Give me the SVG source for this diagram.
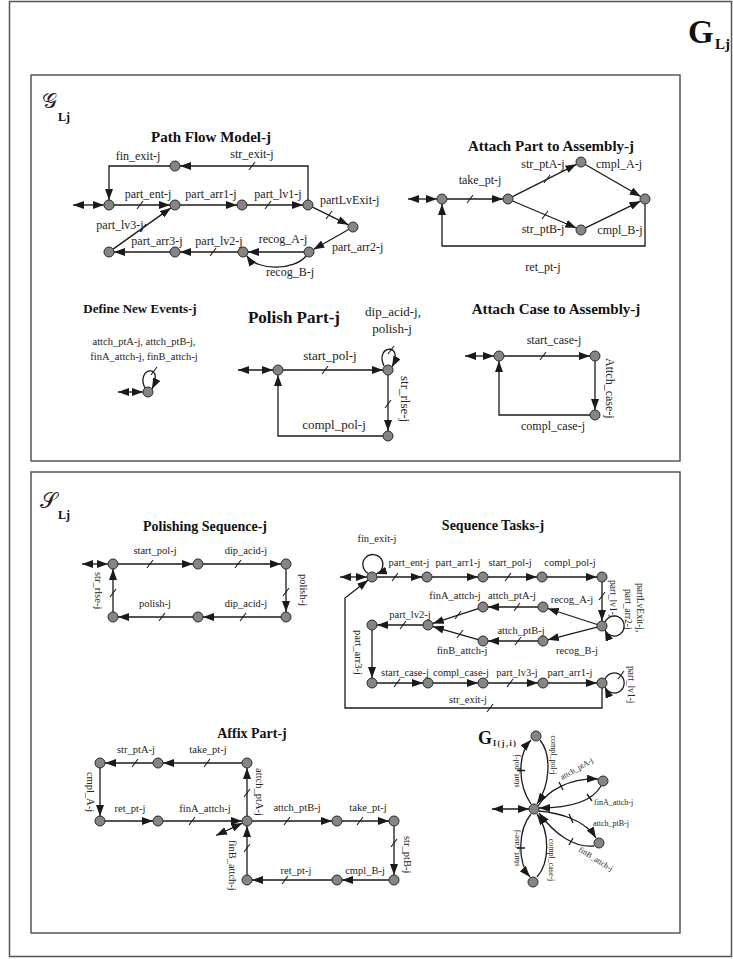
<svg xmlns="http://www.w3.org/2000/svg" width="733" height="959" viewBox="0 0 733 959">
<defs>
<marker id="ah" viewBox="0 0 11 8" refX="11" refY="4" markerWidth="11" markerHeight="8" markerUnits="userSpaceOnUse" orient="auto-start-reverse"><path d="M0,0 L11,4 L0,8 z" fill="#1a1a1a"/></marker>
<path id="tk" d="M-3,4 L3,-4" stroke="#1a1a1a" stroke-width="1.1" fill="none"/>
<circle id="nd" r="5" fill="#858585" stroke="#2a2a2a" stroke-width="1"/>
</defs>
<style>
.e{fill:none;stroke:#1a1a1a;stroke-width:1.3}
.a{marker-end:url(#ah)}
.d{marker-start:url(#ah);marker-end:url(#ah)}
.t{font-family:"Liberation Serif","Times New Roman",serif;font-size:12px;fill:#222}
.s{font-size:10.5px}
.v{font-size:9.5px}
.xs{font-size:8px}
.f10{font-size:10.5px}
.f13{font-size:13px}
.f14{font-size:14px}
.f15{font-size:15px}
.f17{font-size:17px}
.f18{font-size:18px}
.m{text-anchor:middle}
.b{font-weight:bold;fill:#111}
.fr{fill:none;stroke:#555;stroke-width:1.5}
</style>
<rect class="fr" x="9.5" y="1.5" width="722" height="955"/>
<rect class="fr" x="31" y="75" width="649" height="386"/>
<rect class="fr" x="31" y="472" width="649" height="461"/>
<g id="title-GLj"><text class="t b" x="688" y="43" style="font-size:33px">G</text><text class="t b" x="715" y="49" style="font-size:15px">Lj</text></g>
<g id="title-scriptG"><text class="t" x="42" y="108" style="font-size:21px">𝒢</text><text class="t b" x="58" y="121" style="font-size:12px">Lj</text></g>
<g id="title-scriptS"><text class="t" x="40" y="508" style="font-size:22px">𝒮</text><text class="t b" x="58" y="519" style="font-size:12px">Lj</text></g>

<!-- Path Flow Model -->
<g id="pf-connectors">
<path class="e d" d="M73,205 L104,205"/>
<path class="e a" d="M114,205 L170,205"/>
<path class="e a" d="M180,205 L237,205"/>
<path class="e a" d="M247,205 L303,205"/>
<path class="e a" d="M312.5,207.2 L348.5,224.8"/>
<path class="e a" d="M348.6,229.5 L313.4,249.5"/>
<path class="e a" d="M304,252 L248,252"/>
<path class="e a" d="M306,256 C295,270 258,272 246.5,255.5"/>
<path class="e a" d="M238,252 L180,252"/>
<path class="e a" d="M170,252 L114,252"/>
<path class="e a" d="M113.1,249.1 L170.9,207.9"/>
<path class="e a" d="M308,200 L308,166 L180,166"/>
<path class="e a" d="M170,166 L109,166 L109,200"/>
<use href="#tk" x="140" y="205"/><use href="#tk" x="268" y="205"/><use href="#tk" x="329" y="215"/><use href="#tk" x="252" y="166"/><use href="#tk" x="143" y="228"/><use href="#tk" x="213" y="252"/>
</g>
<g id="pf-labels">
<text class="t b m f15" x="211" y="142">Path Flow Model-j</text>
<text class="t m" x="138" y="160">fin_exit-j</text>
<text class="t m" x="252" y="158">str_exit-j</text>
<text class="t m" x="148" y="198">part_ent-j</text>
<text class="t m" x="211" y="198">part_arr1-j</text>
<text class="t m" x="278" y="198">part_lv1-j</text>
<text class="t" x="320" y="204">partLvExit-j</text>
<text class="t m" x="120" y="229">part_lv3-j</text>
<text class="t m" x="157" y="245">part_arr3-j</text>
<text class="t m" x="219" y="245">part_lv2-j</text>
<text class="t m" x="283" y="243">recog_A-j</text>
<text class="t" x="332" y="251">part_arr2-j</text>
<text class="t m" x="290" y="276">recog_B-j</text>
</g>
<g id="pf-n1"><use href="#nd" x="109" y="205"/></g>
<g id="pf-n2"><use href="#nd" x="175" y="205"/></g>
<g id="pf-n3"><use href="#nd" x="242" y="205"/></g>
<g id="pf-n4"><use href="#nd" x="308" y="205"/></g>
<g id="pf-n5"><use href="#nd" x="353" y="227"/></g>
<g id="pf-n6"><use href="#nd" x="309" y="252"/></g>
<g id="pf-n7"><use href="#nd" x="243" y="252"/></g>
<g id="pf-n8"><use href="#nd" x="175" y="252"/></g>
<g id="pf-n9"><use href="#nd" x="109" y="252"/></g>
<g id="pf-n10"><use href="#nd" x="175" y="166"/></g>

<!-- Attach Part to Assembly -->
<g id="ap-connectors">
<path class="e d" d="M408,199 L437,199"/>
<path class="e a" d="M447,199 L503,199"/>
<path class="e a" d="M512.5,196.7 L576.5,164.3"/>
<path class="e a" d="M512.6,201 L576.4,228"/>
<path class="e a" d="M585.3,164.5 L640.7,196.5"/>
<path class="e a" d="M585.5,227.8 L640.5,201.2"/>
<path class="e a" d="M645,204 L645,246 L442,246 L442,204"/>
<use href="#tk" x="470" y="199"/><use href="#tk" x="547" y="179"/><use href="#tk" x="545" y="215"/>
</g>
<g id="ap-labels">
<text class="t b m f15" x="551" y="151">Attach Part to Assembly-j</text>
<text class="t m" x="480" y="184">take_pt-j</text>
<text class="t m" x="543" y="168">str_ptA-j</text>
<text class="t m" x="543" y="233">str_ptB-j</text>
<text class="t m" x="619" y="168">cmpl_A-j</text>
<text class="t m" x="620" y="234">cmpl_B-j</text>
<text class="t m" x="543" y="271">ret_pt-j</text>
</g>
<g id="ap-n1"><use href="#nd" x="442" y="199"/></g>
<g id="ap-n2"><use href="#nd" x="508" y="199"/></g>
<g id="ap-n3"><use href="#nd" x="581" y="162"/></g>
<g id="ap-n4"><use href="#nd" x="581" y="230"/></g>
<g id="ap-n5"><use href="#nd" x="645" y="199"/></g>

<!-- Define New Events -->
<g id="dn-connectors">
<path class="e d" d="M118,392 L143,392"/>
<path class="e a" d="M145,388 C135,368 165,362 152,389"/>
<use href="#tk" x="154" y="371"/>
</g>
<g id="dn-labels">
<text class="t b m f13" x="140" y="313">Define New Events-j</text>
<text class="t m f10" x="144" y="345">attch_ptA-j, attch_ptB-j,</text>
<text class="t m f10" x="144" y="360">finA_attch-j, finB_attch-j</text>
</g>
<g id="dn-n1"><use href="#nd" x="148" y="392"/></g>

<!-- Polish Part -->
<g id="pp-connectors">
<path class="e d" d="M238,370 L273,370"/>
<path class="e a" d="M283,370 L383,370"/>
<path class="e a" d="M384,366 C374,345 405,342 392,367"/>
<path class="e a" d="M388,375 L388,431"/>
<path class="e a" d="M383,436 L278,436 L278,375"/>
<use href="#tk" x="325" y="370"/><use href="#tk" x="391" y="350"/><use href="#tk" x="388" y="404"/>
</g>
<g id="pp-labels">
<text class="t b m f17" x="294" y="323">Polish Part-j</text>
<text class="t m f13" x="393" y="316">dip_acid-j,</text>
<text class="t m f13" x="392" y="333">polish-j</text>
<text class="t m f13" x="330" y="360">start_pol-j</text>
<text class="t f13" transform="translate(401,376) rotate(90)">str_rlse-j</text>
<text class="t m f13" x="334" y="429">compl_pol-j</text>
</g>
<g id="pp-n1"><use href="#nd" x="278" y="370"/></g>
<g id="pp-n2"><use href="#nd" x="388" y="370"/></g>
<g id="pp-n3"><use href="#nd" x="388" y="436"/></g>

<!-- Attach Case to Assembly -->
<g id="ac-connectors">
<path class="e d" d="M465,356 L494,356"/>
<path class="e a" d="M504,356 L590,356"/>
<path class="e a" d="M595,361 L595,410"/>
<path class="e a" d="M590,415 L499,415 L499,361"/>
<use href="#tk" x="543" y="356"/>
</g>
<g id="ac-labels">
<text class="t b m f15" x="556" y="314">Attach Case to Assembly-j</text>
<text class="t m" x="554" y="344">start_case-j</text>
<text class="t" transform="translate(606,358) rotate(90)">Attch_case-j</text>
<text class="t m" x="553" y="430">compl_case-j</text>
</g>
<g id="ac-n1"><use href="#nd" x="499" y="356"/></g>
<g id="ac-n2"><use href="#nd" x="595" y="356"/></g>
<g id="ac-n3"><use href="#nd" x="595" y="415"/></g>

<!-- Polishing Sequence -->
<g id="ps-connectors">
<path class="e d" d="M82,564 L108,564"/>
<path class="e a" d="M118,564 L193,564"/>
<path class="e a" d="M203,564 L281,564"/>
<path class="e a" d="M286,569 L286,612"/>
<path class="e a" d="M281,617 L203,617"/>
<path class="e a" d="M193,617 L118,617"/>
<path class="e a" d="M113,612 L113,569"/>
<use href="#tk" x="150" y="564"/><use href="#tk" x="238" y="564"/><use href="#tk" x="286" y="592"/><use href="#tk" x="243" y="617"/><use href="#tk" x="162" y="617"/><use href="#tk" x="113" y="593"/>
</g>
<g id="ps-labels">
<text class="t b m f14" x="205" y="531">Polishing Sequence-j</text>
<text class="t s m" x="155" y="554">start_pol-j</text>
<text class="t s m" x="246" y="554">dip_acid-j</text>
<text class="t s" transform="translate(300,574) rotate(90)">polish-j</text>
<text class="t s m" x="246" y="607">dip_acid-j</text>
<text class="t s m" x="155" y="607">polish-j</text>
<text class="t s" transform="translate(95,572) rotate(90)">str_rlse-j</text>
</g>
<g id="ps-n1"><use href="#nd" x="113" y="564"/></g>
<g id="ps-n2"><use href="#nd" x="198" y="564"/></g>
<g id="ps-n3"><use href="#nd" x="286" y="564"/></g>
<g id="ps-n4"><use href="#nd" x="286" y="617"/></g>
<g id="ps-n5"><use href="#nd" x="198" y="617"/></g>
<g id="ps-n6"><use href="#nd" x="113" y="617"/></g>

<!-- Sequence Tasks -->
<g id="st-connectors">
<path class="e d" d="M340,577 L367,577"/>
<path class="e a" d="M368.5,573.5 A10,10 0 1 1 376,574"/>
<path class="e a" d="M377,577 L422,577"/>
<path class="e a" d="M432,577 L478,577"/>
<path class="e a" d="M488,577 L537,577"/>
<path class="e a" d="M547,577 L597,577"/>
<path class="e a" d="M602,582 L602,621"/>
<path class="e a" d="M605,622 A10,10 0 1 1 605,630"/>
<path class="e a" d="M597.2,624.5 L547.8,608.5"/>
<path class="e a" d="M597.2,627.2 L547.8,639.8"/>
<path class="e a" d="M538,607 L488,607"/>
<path class="e a" d="M538,641 L488,641"/>
<path class="e a" d="M478.2,608.6 L432.8,623.4"/>
<path class="e a" d="M478.2,639.6 L432.8,626.6"/>
<path class="e a" d="M423,625 L377,625"/>
<path class="e a" d="M372,630 L372,678"/>
<path class="e a" d="M377,683 L423,683"/>
<path class="e a" d="M433,683 L478,683"/>
<path class="e a" d="M488,683 L538,683"/>
<path class="e a" d="M548,683 L597,683"/>
<path class="e a" d="M605,679 A10,10 0 1 1 605,687"/>
<path class="e a" d="M602,688 L602,708 L345,708 L345,598 L368.1,580.1"/>
<use href="#tk" x="395" y="577"/><use href="#tk" x="508" y="577"/><use href="#tk" x="602" y="596"/><use href="#tk" x="517" y="607"/><use href="#tk" x="518" y="641"/><use href="#tk" x="458" y="615"/><use href="#tk" x="460" y="634"/><use href="#tk" x="403" y="625"/><use href="#tk" x="397" y="683"/><use href="#tk" x="510" y="683"/><use href="#tk" x="490" y="708"/><use href="#tk" x="621" y="675"/>
</g>
<g id="st-labels">
<text class="t b m f14" x="493" y="530">Sequence Tasks-j</text>
<text class="t s m" x="377" y="542">fin_exit-j</text>
<text class="t s m" x="409" y="566">part_ent-j</text>
<text class="t s m" x="458" y="566">part_arr1-j</text>
<text class="t s m" x="510" y="566">start_pol-j</text>
<text class="t s m" x="570" y="566">compl_pol-j</text>
<text class="t v" transform="translate(610,580) rotate(90)">part_lv1-j</text>
<text class="t v" transform="translate(637,583) rotate(90)">partLvExit-j,</text>
<text class="t v" transform="translate(625,589) rotate(90)">part_arr2-j</text>
<text class="t s m" x="455" y="599">finA_attch-j</text>
<text class="t s m" x="512" y="599">attch_ptA-j</text>
<text class="t s m" x="572" y="603">recog_A-j</text>
<text class="t s m" x="410" y="618">part_lv2-j</text>
<text class="t s m" x="521" y="634">attch_ptB-j</text>
<text class="t s m" x="462" y="654">finB_attch-j</text>
<text class="t s m" x="577" y="654">recog_B-j</text>
<text class="t s" transform="translate(355,630) rotate(90)">part_arr3-j</text>
<text class="t s m" x="405" y="676">start_case-j</text>
<text class="t s m" x="461" y="676">compl_case-j</text>
<text class="t s m" x="517" y="676">part_lv3-j</text>
<text class="t s m" x="570" y="676">part_arr1-j</text>
<text class="t v" transform="translate(628,666) rotate(90)">part_lv1-j</text>
<text class="t s m" x="468" y="703">str_exit-j</text>
</g>
<g id="st-n1"><use href="#nd" x="372" y="577"/></g>
<g id="st-n2"><use href="#nd" x="427" y="577"/></g>
<g id="st-n3"><use href="#nd" x="483" y="577"/></g>
<g id="st-n4"><use href="#nd" x="542" y="577"/></g>
<g id="st-n5"><use href="#nd" x="602" y="577"/></g>
<g id="st-n6"><use href="#nd" x="602" y="626"/></g>
<g id="st-n7"><use href="#nd" x="543" y="607"/></g>
<g id="st-n8"><use href="#nd" x="483" y="607"/></g>
<g id="st-n9"><use href="#nd" x="543" y="641"/></g>
<g id="st-n10"><use href="#nd" x="483" y="641"/></g>
<g id="st-n11"><use href="#nd" x="428" y="625"/></g>
<g id="st-n12"><use href="#nd" x="372" y="625"/></g>
<g id="st-n13"><use href="#nd" x="372" y="683"/></g>
<g id="st-n14"><use href="#nd" x="428" y="683"/></g>
<g id="st-n15"><use href="#nd" x="483" y="683"/></g>
<g id="st-n16"><use href="#nd" x="543" y="683"/></g>
<g id="st-n17"><use href="#nd" x="602" y="683"/></g>

<!-- Affix Part -->
<g id="af-connectors">
<path class="e a" d="M242,763 L163,763"/>
<path class="e a" d="M153,763 L105,763"/>
<path class="e a" d="M100,768 L100,816"/>
<path class="e a" d="M105,821 L153,821"/>
<path class="e a" d="M163,821 L242,821"/>
<path class="e a" d="M247,816 L247,768"/>
<path class="e a" d="M252,821 L332,821"/>
<path class="e a" d="M342,821 L389,821"/>
<path class="e a" d="M394,826 L394,875"/>
<path class="e a" d="M389,880 L342,880"/>
<path class="e a" d="M332,880 L252,880"/>
<path class="e a" d="M247,875 L247,826"/>
<path class="e d" d="M242.5,823.1 L216,835.5"/>
<use href="#tk" x="207" y="763"/><use href="#tk" x="135" y="763"/><use href="#tk" x="192" y="821"/><use href="#tk" x="247" y="793"/><use href="#tk" x="287" y="821"/><use href="#tk" x="360" y="821"/><use href="#tk" x="394" y="843"/><use href="#tk" x="285" y="880"/><use href="#tk" x="247" y="848"/>
</g>
<g id="af-labels">
<text class="t b m f14" x="252" y="738">Affix Part-j</text>
<text class="t s m" x="136" y="753">str_ptA-j</text>
<text class="t s m" x="208" y="753">take_pt-j</text>
<text class="t s m" transform="translate(87,792) rotate(90)">cmpl_A-j</text>
<text class="t s m" x="130" y="812">ret_pt-j</text>
<text class="t s m" x="205" y="812">finA_attch-j</text>
<text class="t s m" transform="translate(256,792) rotate(90)">attch_ptA-j</text>
<text class="t s m" x="297" y="811">attch_ptB-j</text>
<text class="t s m" x="368" y="811">take_pt-j</text>
<text class="t s" transform="translate(404,836) rotate(90)">str_ptB-j</text>
<text class="t s" transform="translate(229,840) rotate(90)">finB_attch-j</text>
<text class="t s m" x="296" y="874">ret_pt-j</text>
<text class="t s m" x="365" y="874">cmpl_B-j</text>
</g>
<g id="af-n1"><use href="#nd" x="100" y="763"/></g>
<g id="af-n2"><use href="#nd" x="158" y="763"/></g>
<g id="af-n3"><use href="#nd" x="247" y="763"/></g>
<g id="af-n4"><use href="#nd" x="100" y="821"/></g>
<g id="af-n5"><use href="#nd" x="158" y="821"/></g>
<g id="af-n6"><use href="#nd" x="247" y="821"/></g>
<g id="af-n7"><use href="#nd" x="337" y="821"/></g>
<g id="af-n8"><use href="#nd" x="394" y="821"/></g>
<g id="af-n9"><use href="#nd" x="394" y="880"/></g>
<g id="af-n10"><use href="#nd" x="337" y="880"/></g>
<g id="af-n11"><use href="#nd" x="247" y="880"/></g>

<!-- G_I(j,i) -->
<g id="gi-connectors">
<path class="e d" d="M492,809 L529,809"/>
<path class="e a" d="M531,804 C518,785 517,755 531,740"/>
<path class="e a" d="M540,740 C552,755 550,785 537,804"/>
<path class="e a" d="M538,806 C548,790 570,778 598,779"/>
<path class="e a" d="M601,786 C592,802 570,808 539,808"/>
<path class="e a" d="M539,811 C560,813 585,820 596,838"/>
<path class="e a" d="M594,846 C575,848 555,835 539,813"/>
<path class="e a" d="M531,814 C518,830 517,862 530,877"/>
<path class="e a" d="M537,877 C550,862 550,832 537,814"/>
<path class="e" d="M517,770.5 L525,770.5 M559,782 L563,790 M587,794 L592,801 M569,814 L573,823 M569,845 L573,838 M517,848 L525,848"/>
</g>
<g id="gi-labels">
<text class="t b f18" x="478" y="744">G</text>
<text class="t b xs" x="493" y="746" letter-spacing="1.5">I(j,i)</text>
<text class="t xs m" transform="translate(519,771) rotate(-90)">start_pol-j</text>
<text class="t xs m" transform="translate(551,755) rotate(90)">compl_pol-j</text>
<text class="t xs m" transform="translate(578,771) rotate(-30)">attch_ptA-j</text>
<text class="t xs" x="594" y="805">finA_attch-j</text>
<text class="t xs" x="593" y="826">attch_ptB-j</text>
<text class="t xs" transform="translate(578,851) rotate(32)">finB_attch-j</text>
<text class="t xs m" transform="translate(519,848) rotate(-90)">start_case-j</text>
<text class="t xs m" transform="translate(549,860) rotate(90)">compl_case-j</text>
</g>
<g id="gi-n1"><use href="#nd" x="534" y="809"/></g>
<g id="gi-n2"><use href="#nd" x="536" y="736"/></g>
<g id="gi-n3"><use href="#nd" x="603" y="781"/></g>
<g id="gi-n4"><use href="#nd" x="599" y="843"/></g>
<g id="gi-n5"><use href="#nd" x="533" y="882"/></g>
</svg>
